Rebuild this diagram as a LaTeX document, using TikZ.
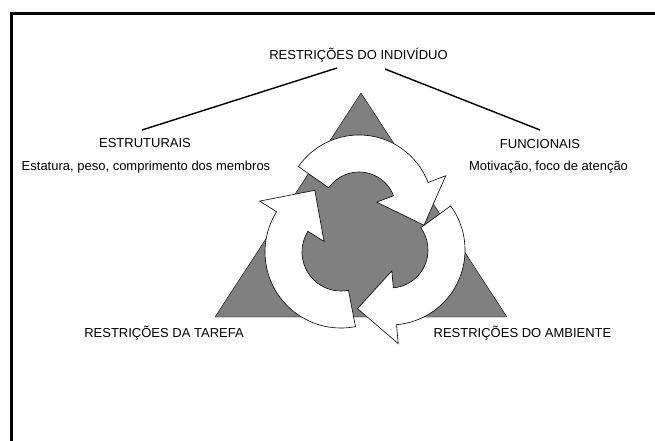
\documentclass[tikz,border=0pt]{standalone}
\usepackage{fontspec}
\setmainfont{Liberation Sans}
\definecolor{tri}{RGB}{128,128,128}
\begin{document}
\begin{tikzpicture}[x=1pt,y=1pt,
  lbl/.style={font=\fontsize{13}{15}\selectfont, inner sep=0pt, anchor=base},
  cyc/.style={fill=white, draw=black, line width=0.6pt, line join=miter},
  conn/.style={line width=1.4pt}]
\useasboundingbox (0,0) rectangle (655,-441);
% frame
\draw[line width=3pt, line join=miter] (11.7,-441) -- (11.7,-14) -- (655,-14);
% labels
\node[lbl] (title) at (358.5,-60) {RESTRIÇÕES DO INDIVÍDUO};
\node[lbl] (estr) at (145,-147.8) {ESTRUTURAIS};
\node[lbl] (estrd) at (146,-170) {Estatura, peso, comprimento dos membros};
\node[lbl] (func) at (540,-148.3) {FUNCIONAIS};
\node[lbl] (funcd) at (548.5,-170) {Motivação, foco de atenção};
\node[lbl] (tarefa) at (164,-337.5) {RESTRIÇÕES DA TAREFA};
\node[lbl] (ambiente) at (522.5,-337.5) {RESTRIÇÕES DO AMBIENTE};
% connectors
\coordinate (tl) at (337,-68);
\coordinate (tr) at (385,-69);
\coordinate (el) at (142,-130);
\coordinate (er) at (540,-130);
\draw[conn] (tl) -- (el);
\draw[conn] (tr) -- (er);
% triangle
\fill[tri, draw=black, line width=0.4pt] (361,-93) -- (215,-317) -- (507,-317) -- cycle;
% right arrow
\begin{scope}[shift={(390,-250)}]
\draw[cyc] (36:75pt) arc[start angle=36,end angle=-85,radius=75pt] -- (-85:94pt) -- (-119:67pt) -- (-85:21pt) -- (-85:38pt) arc[start angle=-85,end angle=36,radius=38pt] -- cycle;
\end{scope}
% left arrow
\begin{scope}[shift={(341,-252)}]
\draw[cyc] (281:76pt) arc[start angle=281,end angle=148,radius=76pt] -- (148:96pt) -- (113:67pt) -- (148:20pt) -- (148:39pt) arc[start angle=148,end angle=281,radius=39pt] -- cycle;
\end{scope}
% top arrow
\begin{scope}[shift={(359,-209)}]
\draw[cyc] (145:74pt) arc[start angle=145,end angle=21,radius=74pt] -- (21:93pt) -- (-14:67pt) -- (21:19pt) -- (21:37pt) arc[start angle=21,end angle=145,radius=37pt] -- cycle;
\end{scope}
\end{tikzpicture}
\end{document}
